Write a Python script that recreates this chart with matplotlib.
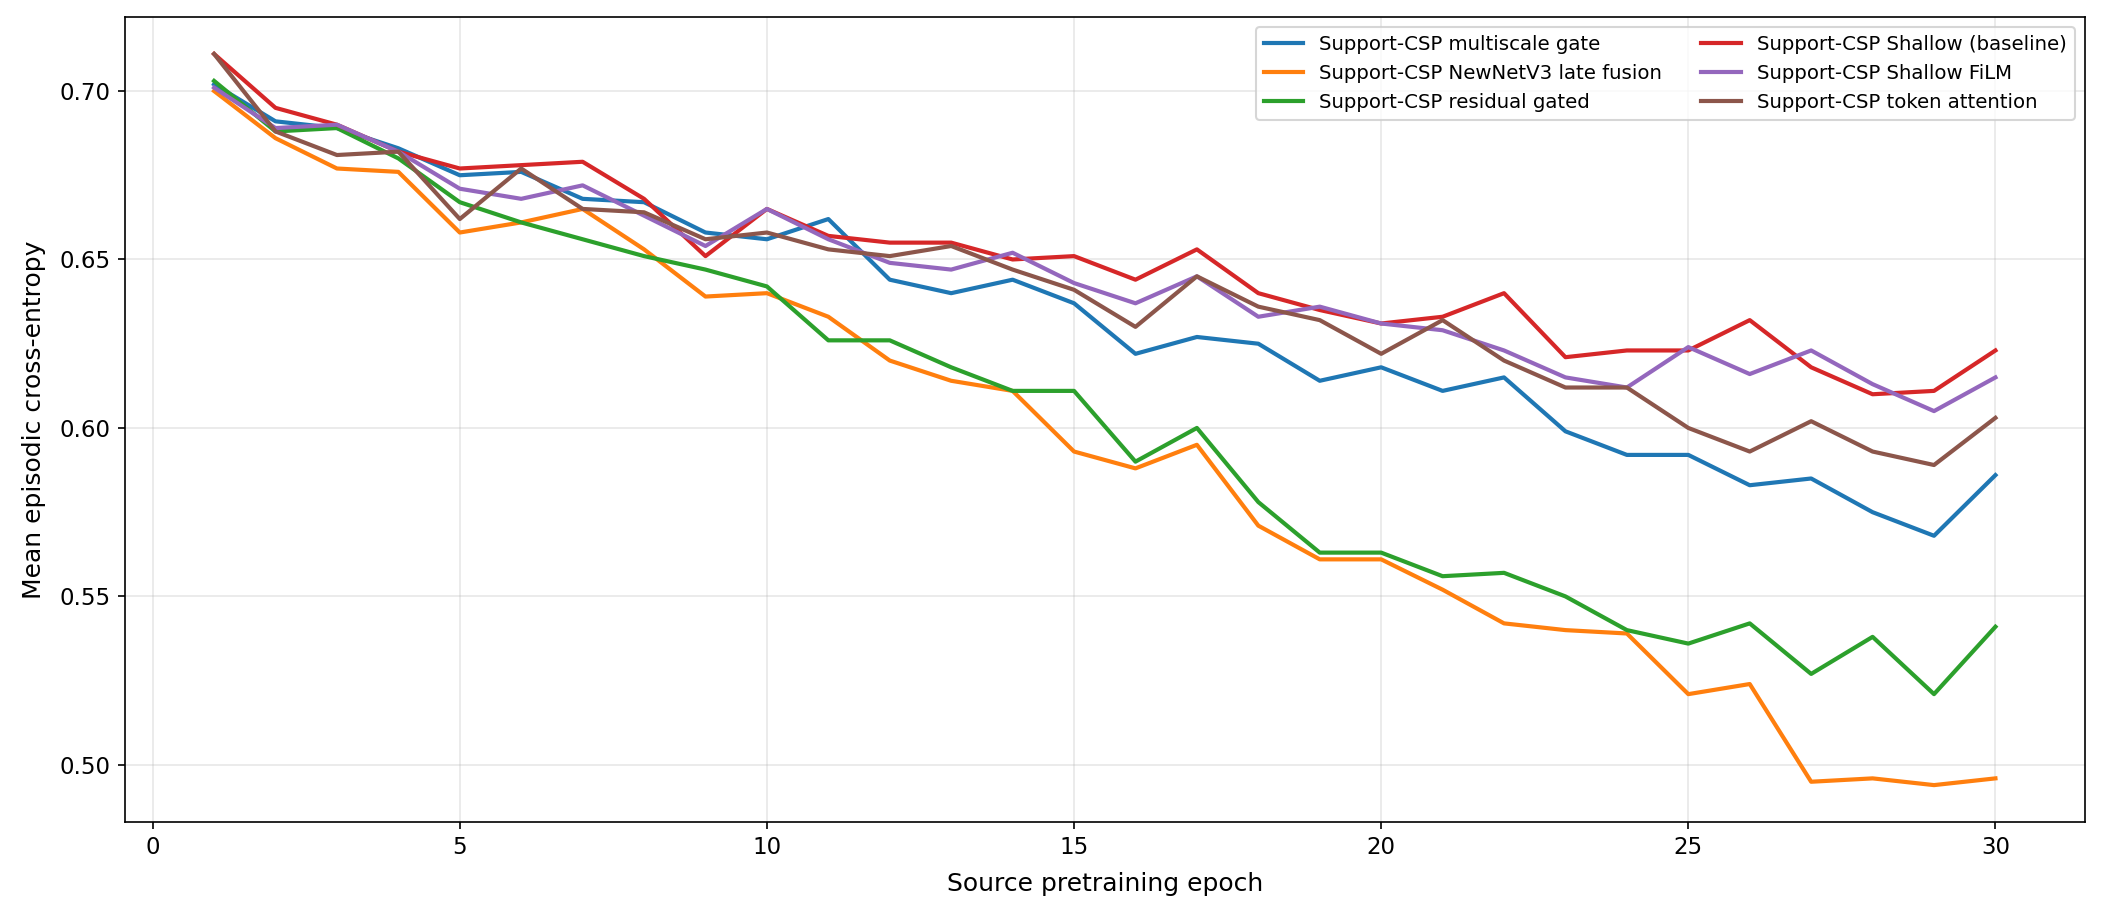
import numpy as np
import matplotlib
matplotlib.use('Agg')
from matplotlib import pyplot as plt

epochs = list(range(1, 31))

multiscale_gate = [0.702, 0.691, 0.689, 0.683, 0.675, 0.676, 0.668, 0.667, 0.658, 0.656,
                   0.662, 0.644, 0.640, 0.644, 0.637, 0.622, 0.627, 0.625, 0.614, 0.618,
                   0.611, 0.615, 0.599, 0.592, 0.592, 0.583, 0.585, 0.575, 0.568, 0.586]
newnet_late = [0.700, 0.686, 0.677, 0.676, 0.658, 0.661, 0.665, 0.653, 0.639, 0.640,
               0.633, 0.620, 0.614, 0.611, 0.593, 0.588, 0.595, 0.571, 0.561, 0.561,
               0.552, 0.542, 0.540, 0.539, 0.521, 0.524, 0.495, 0.496, 0.494, 0.496]
residual_gated = [0.703, 0.688, 0.689, 0.680, 0.667, 0.661, 0.656, 0.651, 0.647, 0.642,
                  0.626, 0.626, 0.618, 0.611, 0.611, 0.590, 0.600, 0.578, 0.563, 0.563,
                  0.556, 0.557, 0.550, 0.540, 0.536, 0.542, 0.527, 0.538, 0.521, 0.541]
shallow_base = [0.711, 0.695, 0.690, 0.682, 0.677, 0.678, 0.679, 0.668, 0.651, 0.665,
                0.657, 0.655, 0.655, 0.650, 0.651, 0.644, 0.653, 0.640, 0.635, 0.631,
                0.633, 0.640, 0.621, 0.623, 0.623, 0.632, 0.618, 0.610, 0.611, 0.623]
shallow_film = [0.701, 0.689, 0.690, 0.682, 0.671, 0.668, 0.672, 0.663, 0.654, 0.665,
                0.656, 0.649, 0.647, 0.652, 0.643, 0.637, 0.645, 0.633, 0.636, 0.631,
                0.629, 0.623, 0.615, 0.612, 0.624, 0.616, 0.623, 0.613, 0.605, 0.615]
token_attn = [0.711, 0.688, 0.681, 0.682, 0.662, 0.677, 0.665, 0.664, 0.656, 0.658,
              0.653, 0.651, 0.654, 0.647, 0.641, 0.630, 0.645, 0.636, 0.632, 0.622,
              0.632, 0.620, 0.612, 0.612, 0.600, 0.593, 0.602, 0.593, 0.589, 0.603]

series = [
  ('Support-CSP multiscale gate', multiscale_gate),
  ('Support-CSP NewNetV3 late fusion', newnet_late),
  ('Support-CSP residual gated', residual_gated),
  ('Support-CSP Shallow (baseline)', shallow_base),
  ('Support-CSP Shallow FiLM', shallow_film),
  ('Support-CSP token attention', token_attn),
]

fig, ax = plt.subplots(figsize=(14.03, 6.1), dpi=150)
fig.subplots_adjust(left=0.0594, right=0.9905, top=0.981, bottom=0.102)

for name, vals in series:
  ax.plot(epochs, vals, linewidth=2, label=name)

ax.set_xlabel('Source pretraining epoch', fontsize=12, labelpad=6)
ax.set_ylabel('Mean episodic cross-entropy', fontsize=12, labelpad=6.5)
ax.tick_params(labelsize=11)
ax.grid(True, alpha=0.3)
ax.legend(ncol=2, fontsize=9.5, loc='upper right')

fig.savefig('out.png', dpi=150)
